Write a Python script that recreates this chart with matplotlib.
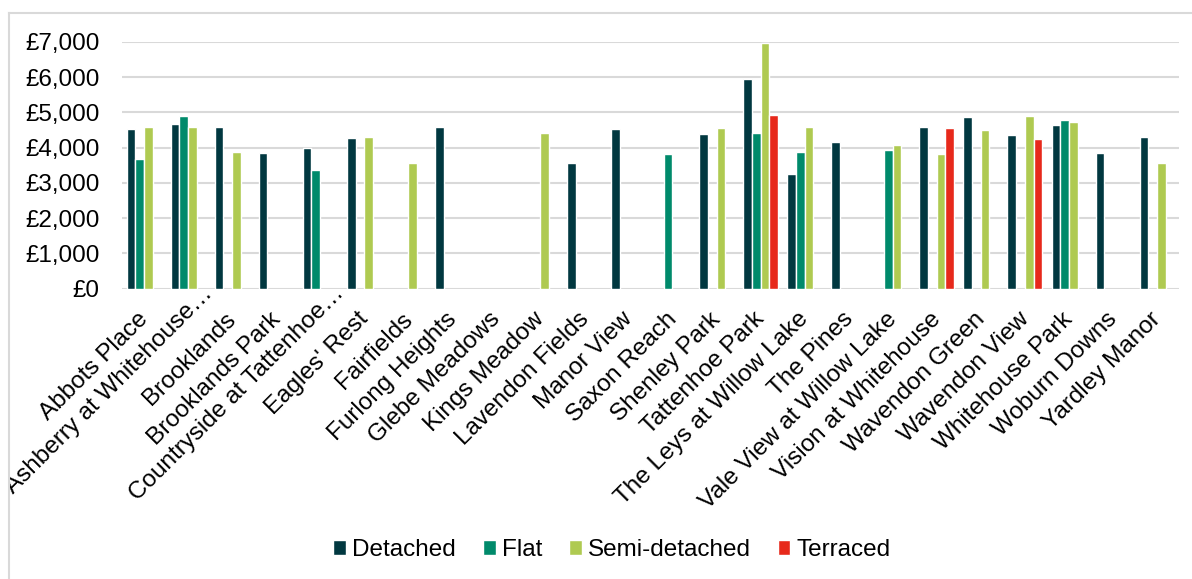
import numpy as np
import matplotlib.pyplot as plt
from matplotlib.lines import Line2D
from matplotlib.ticker import FuncFormatter, MultipleLocator
from matplotlib.transforms import ScaledTranslation, Bbox, TransformedBbox

plt.rcParams['font.family'] = ['Liberation Sans', 'DejaVu Sans']

developments = [
    "Abbots Place", "Ashberry at Whitehouse…", "Brooklands", "Brooklands Park",
    "Countryside at Tattenhoe…", "Eagles' Rest", "Fairfields", "Furlong Heights",
    "Glebe Meadows", "Kings Meadow", "Lavendon Fields", "Manor View",
    "Saxon Reach", "Shenley Park", "Tattenhoe Park", "The Leys at Willow Lake",
    "The Pines", "Vale View at Willow Lake", "Vision at Whitehouse",
    "Wavendon Green", "Wavendon View", "Whitehouse Park", "Woburn Downs",
    "Yardley Manor",
]

nan = np.nan
detached = [4530, 4660, 4580, 3840, 4000, 4270, nan, 4600,
            nan, nan, 3580, 4520, nan, 4400, 5950, 3240,
            4170, nan, 4600, 4870, 4370, 4640, 3840, 4310]
flat = [3690, 4890, nan, nan, 3380, nan, nan, nan,
        nan, nan, nan, nan, 3820, nan, 4410, 3890,
        nan, 3930, nan, nan, nan, 4780, nan, nan]
semi_detached = [4600, 4600, 3870, nan, nan, 4310, 3560, nan,
                 nan, 4430, nan, nan, nan, 4560, 6960, 4580,
                 nan, 4070, 3810, 4510, 4910, 4740, nan, 3580]
terraced = [nan, nan, nan, nan, nan, nan, nan, nan,
            nan, nan, nan, nan, nan, nan, 4920, nan,
            nan, nan, 4560, nan, 4260, nan, nan, nan]

series = [
    ("Detached", detached, "#013840"),
    ("Flat", flat, "#008A6B"),
    ("Semi-detached", semi_detached, "#AFCA51"),
    ("Terraced", terraced, "#E7291B"),
]

FS = 17.5
W, H = 1192, 579

fig = plt.figure(figsize=(W / 100, H / 100), dpi=100)
ax = fig.add_axes([0.1023, 0.5014, 0.8868, 0.4261])

x = np.arange(len(developments))
slot = 0.197
for i, (name, vals, color) in enumerate(series):
    offs = (i - 1.5) * slot
    ax.bar(x + offs, np.array(vals, dtype=float), width=slot,
           color=color, edgecolor="white", linewidth=1.0, label=name,
           zorder=3)

ax.set_xlim(-0.5, len(developments) - 0.5)
ax.set_ylim(0, 7000)
ax.yaxis.set_major_locator(MultipleLocator(1000))
ax.yaxis.set_major_formatter(FuncFormatter(lambda v, p: f"£{int(v):,}"))
ax.grid(axis="y", color="#D9D9D9", linewidth=1.5, zorder=0)
for s in ax.spines.values():
    s.set_visible(False)
ax.tick_params(axis="both", length=0, labelsize=FS, colors="#000000")
ax.tick_params(axis="y", pad=16)
ax.set_xticks(x)
ax.set_xticklabels(developments, rotation=45, ha="right",
                   rotation_mode="anchor", fontsize=FS)
ax.tick_params(axis="x", pad=9)

# nudge category labels down-left (truncated ones sit further along their
# baseline) and clip them to the chart area
chart_box = TransformedBbox(Bbox.from_extents(10 / W, 0, 1, 1 - 13 / H),
                            fig.transFigure)
for lbl in ax.get_xticklabels():
    if lbl.get_text().endswith("…"):
        shift = ScaledTranslation(0.13, 0.19, fig.dpi_scale_trans)
    else:
        shift = ScaledTranslation(-0.07, -0.07, fig.dpi_scale_trans)
    lbl.set_transform(lbl.get_transform() + shift)
    lbl.set_clip_box(chart_box)
    lbl.set_clip_on(True)

# chart area border (top and left edges)
fig.add_artist(Line2D([9 / W, 1.0], [1 - 13 / H, 1 - 13 / H],
                      color="#D9D9D9", linewidth=1.5, transform=fig.transFigure))
fig.add_artist(Line2D([9 / W, 9 / W], [0, 1 - 13 / H],
                      color="#D9D9D9", linewidth=1.5, transform=fig.transFigure))

handles, labels = ax.get_legend_handles_labels()
fig.legend(handles, labels, loc="center", bbox_to_anchor=(612 / W, 1 - 550 / H),
           ncol=4, frameon=False, fontsize=FS, handlelength=0.53,
           handleheight=0.53, handletextpad=0.25, columnspacing=1.1)

fig.savefig("out.png", dpi=100)
